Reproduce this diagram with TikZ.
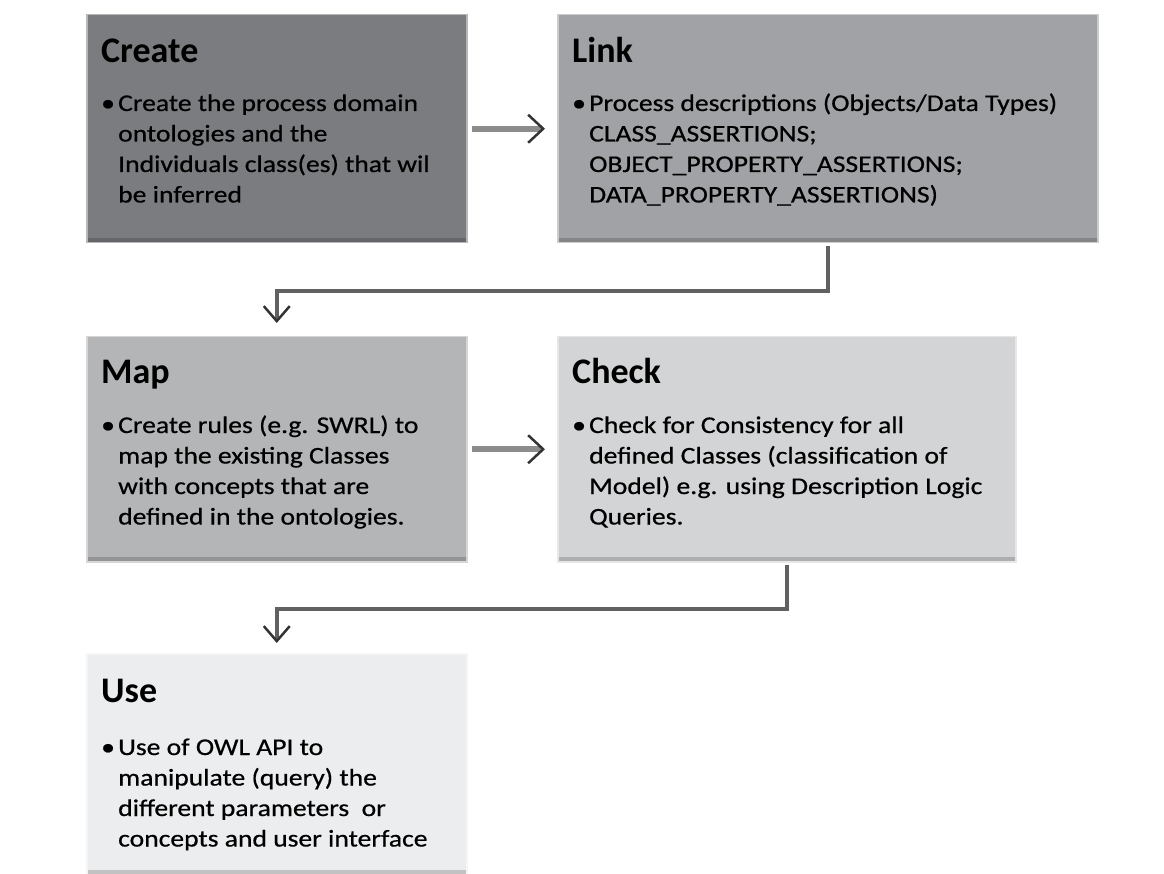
\documentclass[tikz,border=0pt]{standalone}
\usepackage{fontspec}
\setmainfont{Carlito}
\newfontfamily\bodyfam[FakeStretch=1.15,FakeBold=0.6]{Carlito}
\usetikzlibrary{arrows.meta}
\definecolor{createcol}{HTML}{7B7C80}
\definecolor{linkcol}{HTML}{A0A2A5}
\definecolor{mapcol}{HTML}{B4B5B7}
\definecolor{checkcol}{HTML}{D3D4D5}
\definecolor{usecol}{HTML}{ECEDEE}
\newcommand{\itemlines}[1]{\makebox[17pt][l]{\textbullet}\begin{tabular}[t]{@{}l@{}}#1\end{tabular}}
\tikzset{
  stage/.style={rectangle, anchor=north west, inner sep=0pt, fill=#1,
    draw=#1!55!white, line width=1.5pt,
    path picture={\fill[#1!82!black] ([yshift=5pt]path picture bounding box.south west)
      rectangle (path picture bounding box.south east);}},
  head/.style={anchor=base west, inner sep=0pt, font=\fontsize{36}{42}\selectfont\bfseries},
  body/.style={anchor=base west, inner sep=0pt, font=\bodyfam\fontsize{24}{30.5}\selectfont},
  flow/.style={draw=black!45, line width=6pt,
    -{Straight Barb[length=15pt,width=28pt,line width=2.5pt,color=black!80]}},
  turn/.style={draw=black!62, line width=4pt,
    -{Straight Barb[length=15pt,width=26pt,line width=2.5pt,color=black!80]}}
}
\begin{document}
\begin{tikzpicture}[x=1pt,y=-1pt]
      \useasboundingbox (0,0) rectangle (1164,874);
      \node[stage=createcol, minimum width=380pt, minimum height=228pt] (create) at (86,14) {};
      \node[stage=linkcol, minimum width=540pt, minimum height=228pt] (link) at (557,14) {};
      \node[stage=mapcol, minimum width=380pt, minimum height=225pt] (map) at (86,336) {};
      \node[stage=checkcol, minimum width=458pt, minimum height=225pt] (check) at (557,336) {};
      \node[stage=usecol, minimum width=380pt, minimum height=221pt] (use) at (86,653) {};

      \node[head] (createhead) at (101,63) {Create};
      \node[body] (createbody) at (101,111)
        {\itemlines{Create the process domain\\ontologies and the\\Individuals class(es) that wil\\be inferred}};
      \node[head] (linkhead) at (572,63) {Link};
      \node[body] (linkbody) at (572,111)
        {\itemlines{Process descriptions (Objects/Data Types)\\CLASS\_ASSERTIONS;\\OBJECT\_PROPERTY\_ASSERTIONS;\\DATA\_PROPERTY\_ASSERTIONS)}};
      \node[head] (maphead) at (101,383) {Map};
      \node[body] (mapbody) at (101,433)
        {\itemlines{Create rules (e.g. SWRL) to\\map the existing Classes\\with concepts that are\\defined in the ontologies.}};
      \node[head] (checkhead) at (572,383) {Check};
      \node[body] (checkbody) at (572,433)
        {\itemlines{Check for Consistency for all\\defined Classes (classification of\\Model) e.g. using Description Logic\\Queries.}};
      \node[head] (usehead) at (101,702) {Use};
      \node[body] (usebody) at (101,755)
        {\itemlines{Use of OWL API to\\manipulate (query) the\\different parameters\ \ or\\concepts and user interface}};

      \begin{scope}
        \draw[flow] ([xshift=4pt]create.east) -- ([xshift=-12pt]link.west);
        \draw[flow] ([xshift=4pt]map.east) -- ([xshift=-12pt]check.west);
        \draw[turn] ([yshift=-3pt]link.south) -- ++(0,45) -| ([yshift=13pt]map.north);
        \draw[turn] ([yshift=-2pt]check.south) -- ++(0,44) -| ([yshift=10pt]use.north);
      \end{scope}
    \end{tikzpicture}
\end{document}
